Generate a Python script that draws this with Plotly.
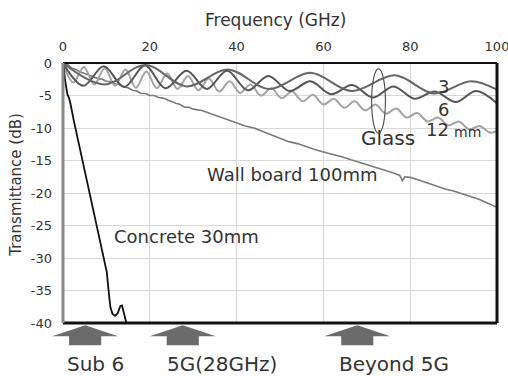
import plotly.graph_objects as go

# ---------------- data ----------------
freq_ticks = [0, 20, 40, 60, 80, 100]
db_ticks = [0, -5, -10, -15, -20, -25, -30, -35, -40]
db_tick_text = ["0", "-5", "-10", "-15", "-20", "-25", "-30", "-35", "-40"]

concrete_f = [0, 0.2, 0.45, 0.7, 1.0, 1.4, 1.7, 2.5, 3.5, 4.5, 5.5, 6.5, 7.5, 8.5, 9.5,
              10.1, 10.5, 10.9, 11.4, 12.0, 12.6, 13.2, 13.6, 13.9, 14.3, 14.6]
concrete_db = [0, -0.8, -2.5, -4.0, -4.8, -5.4, -6.2, -8.9, -12.0, -15.2, -18.3, -21.3, -24.3, -27.2, -30.3,
               -32.2, -35.0, -37.5, -38.6, -38.9, -38.5, -37.4, -37.3, -38.2, -39.5, -40.0]

wall_f = [0, 0.5, 1, 2, 3, 4, 5, 6, 7, 8, 9, 10, 11, 12, 13, 14, 15, 16, 17, 18, 19, 20,
          21, 22, 23, 24, 25, 26, 27, 28, 29, 30, 32, 34, 36, 38, 40, 42, 44, 46, 48, 50,
          52, 54, 56, 58, 60, 62, 64, 66, 68, 70, 72, 74, 76, 77.6, 78.2, 78.8, 80,
          82, 84, 86, 88, 90, 92, 94, 96, 98, 100]
wall_db = [0, -0.3, -0.2, -0.8, -1.0, -1.4, -1.6, -1.9, -2.1, -2.4, -2.5, -2.8, -2.9, -3.2, -3.3, -3.7, -3.8, -4.2, -4.3, -4.7, -4.7, -5.0,
           -5.0, -5.3, -5.4, -5.7, -5.9, -6.2, -6.4, -6.8, -6.8, -7.1, -7.3, -7.8, -8.2, -8.8, -9.3, -9.7, -10.0, -10.5, -11.0, -11.6,
           -12.1, -12.4, -12.9, -13.3, -13.7, -14.0, -14.4, -14.8, -15.2, -15.7, -16.1, -16.5, -16.9, -17.3, -18.1, -17.5, -17.6,
           -18.0, -18.5, -18.9, -19.4, -19.7, -20.1, -20.5, -21.0, -21.6, -22.2]

glass3_f = [0, 9.5, 19, 28.5, 38, 47.5, 57, 66.5, 76.5, 85.5, 94, 100]
glass3_db = [0, -3.3, -0.3, -3.6, -1.0, -4.0, -1.5, -4.3, -1.9, -4.7, -2.8, -4.1]

glass6_f = [0, 4.7, 9.4, 14.1, 18.9, 23.6, 28.5, 33.1, 37.8, 42.6, 47.3, 52.2, 57.0,
            61.8, 66.6, 71.4, 76.2, 81.0, 85.7, 90.5, 95.2, 100]
glass6_db = [0, -3.5, -0.5, -3.7, -0.4, -3.9, -1.2, -4.0, -1.2, -4.2, -2.0, -4.3, -2.8,
             -4.8, -3.4, -5.3, -3.6, -5.5, -4.4, -6.0, -4.3, -6.2]

glass12_f = [0, 2.4, 4.8, 7.2, 9.6, 12, 14.4, 16.8, 19.2, 21.6, 24, 26.4, 28.8, 31.2, 33.6,
             36, 38.4, 40.8, 43.2, 45.6, 48, 50.4, 52.8, 55.2, 57.6, 60, 62.4, 64.8, 67.2,
             69.6, 72, 74.4, 76.8, 79.2, 81.6, 84, 86.4, 88.8, 91.2, 93.6, 96, 98.4, 100]
glass12_db = [0, -3.0, -0.6, -3.3, -0.8, -3.5, -1.0, -3.8, -1.3, -3.9, -1.6, -4.0, -2.0, -4.2, -2.4,
              -4.4, -2.8, -4.6, -3.3, -5.0, -3.9, -5.4, -4.4, -5.9, -4.9, -6.4, -5.5, -6.9, -5.9,
              -7.3, -6.4, -7.8, -7.0, -8.4, -7.7, -9.0, -8.4, -9.6, -9.0, -10.2, -9.7, -10.7, -10.5]

band_labels = ["Sub 6", "5G(28GHz)", "Beyond 5G"]
band_arrow_f = [5.1, 27.6, 67.8]
band_label_f = [7.6, 36.6, 76.3]

x_range = [0, 100]
y_range = [-40, 0]

# ---------------- figure ----------------
TEXT = "#333333"
FONT = "DejaVu Sans"
PLOT_H = 259.7  # plot-area height in px (used for paper offsets of decorations)

fig = go.Figure()
fig.add_trace(go.Scatter(x=wall_f, y=wall_db, mode="lines",
                         line=dict(color="#7a7a7a", width=1.6)))
fig.add_trace(go.Scatter(x=glass12_f, y=glass12_db, mode="lines",
                         line=dict(color="#a3a3a3", width=2, shape="spline")))
fig.add_trace(go.Scatter(x=glass6_f, y=glass6_db, mode="lines",
                         line=dict(color="#555555", width=2, shape="spline")))
fig.add_trace(go.Scatter(x=glass3_f, y=glass3_db, mode="lines",
                         line=dict(color="#666666", width=2, shape="spline")))
fig.add_trace(go.Scatter(x=concrete_f, y=concrete_db, mode="lines",
                         line=dict(color="#111111", width=1.8)))

def fx(f):
    return (f - x_range[0]) / (x_range[1] - x_range[0])

shapes = []
# up arrows under the plot
for c in band_arrow_f:
    hw, sw = 7.6, 3.7
    yt, yb, ys = -0.009, -0.051, -0.086
    pts = [(c - hw, yb), (c, yt), (c + hw, yb), (c + sw, yb), (c + sw, ys), (c - sw, ys), (c - sw, yb)]
    path = "M " + " L ".join(f"{fx(px):.4f},{py}" for px, py in pts) + " Z"
    shapes.append(dict(type="path", xref="paper", yref="paper", path=path,
                       fillcolor="#6b6b6b", line=dict(width=0)))
# glass ellipse
shapes.append(dict(type="circle", xref="x", yref="y", x0=71.1, x1=74.3, y0=-10.8, y1=-0.9,
                   line=dict(color="#555555", width=1.2)))
# frame
shapes.append(dict(type="line", xref="paper", yref="paper", x0=0, x1=1, y0=1, y1=1,
                   line=dict(color="#111111", width=2)))
shapes.append(dict(type="line", xref="paper", yref="paper", x0=0, x1=1, y0=0, y1=0,
                   line=dict(color="#111111", width=3)))
shapes.append(dict(type="line", xref="paper", yref="paper", x0=1, x1=1, y0=0, y1=1,
                   line=dict(color="#111111", width=3)))
shapes.append(dict(type="line", xref="paper", yref="paper", x0=0, x1=0, y0=0, y1=1,
                   line=dict(color="#8a8a8a", width=3)))

annotations = [
    dict(x=11.2, y=-26.7, text="Concrete 30mm", xanchor="left", font=dict(size=18)),
    dict(x=32.7, y=-17.1, text="Wall board 100mm", xanchor="left", font=dict(size=18)),
    dict(x=74.9, y=-11.6, text="Glass", font=dict(size=20)),
    dict(x=87.6, y=-3.6, text="3", font=dict(size=18)),
    dict(x=87.6, y=-7.1, text="6", font=dict(size=18)),
    dict(x=86.4, y=-10.3, text="12", font=dict(size=18)),
    dict(x=93.3, y=-10.6, text="mm", font=dict(size=14)),
]
for a in annotations:
    a.update(xref="x", yref="y", showarrow=False, yanchor="middle")
    a["font"].update(color=TEXT, family=FONT)

for lab, f in zip(band_labels, band_label_f):
    annotations.append(dict(xref="paper", yref="paper", x=fx(f), y=-0.159, text=lab,
                            showarrow=False, xanchor="center", yanchor="middle",
                            font=dict(size=20, color=TEXT, family=FONT)))
annotations.append(dict(xref="paper", yref="paper", x=-0.107, y=0.53, text="Transmittance (dB)",
                        textangle=-90, showarrow=False, xanchor="center", yanchor="middle",
                        font=dict(size=15, color=TEXT, family=FONT)))
annotations.append(dict(xref="paper", yref="paper", x=0.49, y=1 + 43 / PLOT_H,
                        text="Frequency (GHz)", showarrow=False, xanchor="center", yanchor="middle",
                        font=dict(size=17, color=TEXT, family=FONT)))

fig.update_layout(
    width=508, height=376,
    margin=dict(l=63, r=11, t=63, b=53),
    paper_bgcolor="white", plot_bgcolor="white",
    showlegend=False,
    font=dict(family=FONT, color=TEXT),
    shapes=shapes, annotations=annotations,
    xaxis=dict(range=x_range, side="top", tickvals=freq_ticks, showgrid=True,
               gridcolor="#d9d9d9", gridwidth=1, zeroline=False, showline=False,
               ticks="", ticklabelstandoff=8, automargin=False, ticklabeloverflow="allow",
               tickfont=dict(size=13, color=TEXT)),
    yaxis=dict(range=y_range, tickvals=db_ticks, ticktext=db_tick_text, showgrid=True,
               gridcolor="#d9d9d9", gridwidth=1, zeroline=False, showline=False,
               ticks="", ticklabelstandoff=10, automargin=False,
               tickfont=dict(size=13, color=TEXT)),
)

fig.write_html("out.html",
               config={"displayModeBar": False, "staticPlot": True},
               post_script="document.body.style.margin='0';"
                           "document.documentElement.style.overflow='hidden';")
